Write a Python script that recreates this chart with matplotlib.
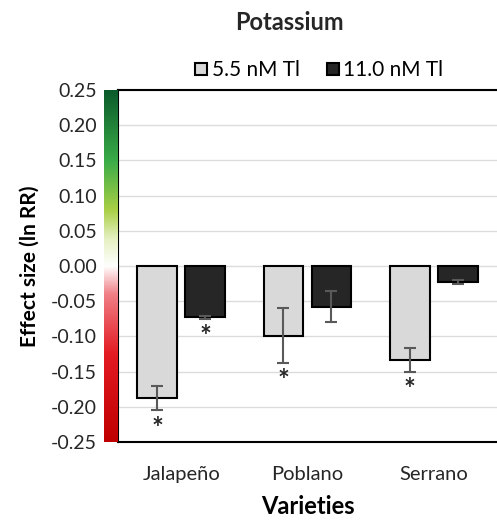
import numpy as np
import matplotlib
import matplotlib.pyplot as plt
from matplotlib.colors import LinearSegmentedColormap
from matplotlib.lines import Line2D

matplotlib.use('Agg')

# Data
varieties = ['Jalapeño', 'Poblano', 'Serrano']
low_tl = [-0.188, -0.099, -0.133]      # 5.5 nM Tl
low_err = [0.017, 0.039, 0.017]
high_tl = [-0.073, -0.058, -0.023]     # 11.0 nM Tl
high_err = [0.002, 0.022, 0.003]
low_sig = [True, True, True]
high_sig = [True, False, False]
y_ticks = [0.25, 0.20, 0.15, 0.10, 0.05, 0.00, -0.05, -0.10, -0.15, -0.20, -0.25]

plt.rcParams['font.family'] = ['Lato', 'DejaVu Sans']

fig = plt.figure(figsize=(4.97, 5.22), dpi=100)
ax = fig.add_axes([0.2374, 0.1533, 0.7626, 0.6743])

x = np.arange(len(varieties))
w = 0.315
off = 0.19

ax.bar(x - off, low_tl, w, color='#d9d9d9', edgecolor='black', linewidth=1.5, zorder=3)
ax.bar(x + off, high_tl, w, color='#262626', edgecolor='black', linewidth=1.5, zorder=3)
ax.errorbar(x - off, low_tl, yerr=low_err, fmt='none', ecolor='#595959',
            elinewidth=1.5, capsize=4, capthick=1.5, zorder=4)
ax.errorbar(x + off, high_tl, yerr=high_err, fmt='none', ecolor='#595959',
            elinewidth=1.5, capsize=4, capthick=1.5, zorder=4)

# significance stars under the error bars
for xi, v, e, s in zip(x - off, low_tl, low_err, low_sig):
    if s:
        ax.text(xi, v - e - 0.026, '*', ha='center', va='center', fontsize=20,
                fontweight='bold', color='#262626', zorder=5)
for xi, v, e, s in zip(x + off, high_tl, high_err, high_sig):
    if s:
        ax.text(xi, v - e - 0.026, '*', ha='center', va='center', fontsize=20,
                fontweight='bold', color='#262626', zorder=5)

ax.set_xlim(-0.5, 2.5)
ax.set_ylim(-0.25, 0.25)
ax.set_yticks(y_ticks)
ax.set_yticklabels([f'{t:.2f}' for t in y_ticks], fontsize=14, color='#262626')
ax.set_xticks(x)
ax.set_xticklabels(varieties, fontsize=14.5, color='#262626')
ax.tick_params(length=0, pad=15, axis='y')
ax.tick_params(length=0, pad=17, axis='x')
ax.grid(axis='y', color='#dcdcdc', linewidth=1, zorder=0)
for side in ['top', 'left', 'bottom']:
    ax.spines[side].set_linewidth(1.5)
    ax.spines[side].set_color('black')
ax.spines['right'].set_visible(False)

ax.set_xlabel('Varieties', fontsize=17, fontweight='bold', labelpad=9)
ax.set_ylabel('Effect size (ln RR)', fontsize=15, fontweight='bold', labelpad=8)

# green / red gradient strip along the y axis
grad = LinearSegmentedColormap.from_list('effect', [
    (0.0, '#bf0000'), (0.25, '#e31b23'), (0.42, '#f07f86'), (0.5, '#ffffff'),
    (0.58, '#e4efbf'), (0.66, '#a9cf45'), (0.8, '#3aac48'), (1.0, '#0b5a2b')])
cax = fig.add_axes([104 / 497, 0.1533, 13 / 497, 0.6743])
cax.imshow(np.linspace(1, 0, 256).reshape(-1, 1), aspect='auto', cmap=grad,
           extent=[0, 1, 0, 1])
cax.set_axis_off()

fig.text(0.583, 0.957, 'Potassium', ha='center', va='center', fontsize=17,
         fontweight='bold', color='#262626')

handles = [Line2D([], [], marker='s', linestyle='none', markersize=9,
                  markerfacecolor='#d9d9d9', markeredgecolor='black', markeredgewidth=1.5),
           Line2D([], [], marker='s', linestyle='none', markersize=9,
                  markerfacecolor='#262626', markeredgecolor='black', markeredgewidth=1.5)]
fig.legend(handles, ['5.5 nM Tl', '11.0 nM Tl'], loc='center', ncol=2,
           bbox_to_anchor=(0.64, 0.866), frameon=False, fontsize=15,
           handletextpad=0.1, columnspacing=1.2, handlelength=0.8)

fig.savefig('out.png', dpi=100)
